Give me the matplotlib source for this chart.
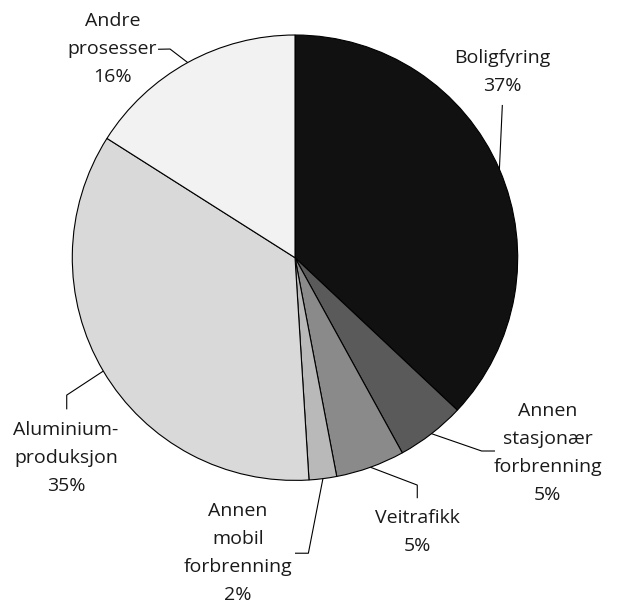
import numpy as np
import matplotlib
matplotlib.use("Agg")
import matplotlib.pyplot as plt

plt.rcParams['font.family'] = ['Open Sans', 'DejaVu Sans']

# andel av utslipp (%)
labels = ["Boligfyring", "Annen\nstasjonær\nforbrenning", "Veitrafikk",
          "Annen\nmobil\nforbrenning", "Aluminium-\nproduksjon", "Andre\nprosesser"]
shares = [37, 5, 5, 2, 35, 16]
colors = ["#111111", "#5a5a5a", "#8a8a8a", "#b9b9b9", "#d9d9d9", "#f2f2f2"]

# leader line knee / end points and text anchor (radius = 1 units)
knees = [None, (0.838, -0.868), (0.549, -1.021), (0.060, -1.327), (-1.025, -0.617), (-0.561, 0.937)]
ends = [(0.931, 0.686), (0.898, -0.868), (0.549, -1.080), (0.0, -1.327), (-1.025, -0.681), (-0.615, 0.936)]
text_pos = [(0.93, 0.834), (1.134, -0.877), (0.552, -1.232), (-0.256, -1.326), (-1.028, -0.899), (-0.82, 0.936)]

fig = plt.figure(figsize=(6.19, 6.06), dpi=100)
ax = fig.add_axes([0, 0, 1, 1])

wedges, _ = ax.pie(shares, colors=colors, startangle=90, counterclock=False, radius=1.0,
                   wedgeprops=dict(edgecolor='black', linewidth=0.8))

# pie() resets the limits, so set them afterwards
ax.set_aspect('auto')
ax.set_xlim(-1.3246, 1.4548)
ax.set_ylim(-1.564, 1.1572)
ax.axis('off')

for i, w in enumerate(wedges):
    mid = np.deg2rad((w.theta1 + w.theta2) / 2)
    edge = (np.cos(mid), np.sin(mid))
    pts = [edge]
    if knees[i] is not None:
        pts.append(knees[i])
    pts.append(ends[i])
    xs, ys = zip(*pts)
    ax.plot(xs, ys, color='black', lw=0.8, solid_capstyle='butt')
    ax.text(text_pos[i][0], text_pos[i][1], f"{labels[i]}\n{shares[i]}%",
            ha='center', va='center', fontsize=14, color='#1a1a1a', linespacing=1.7)

fig.savefig("out.png", dpi=100)
